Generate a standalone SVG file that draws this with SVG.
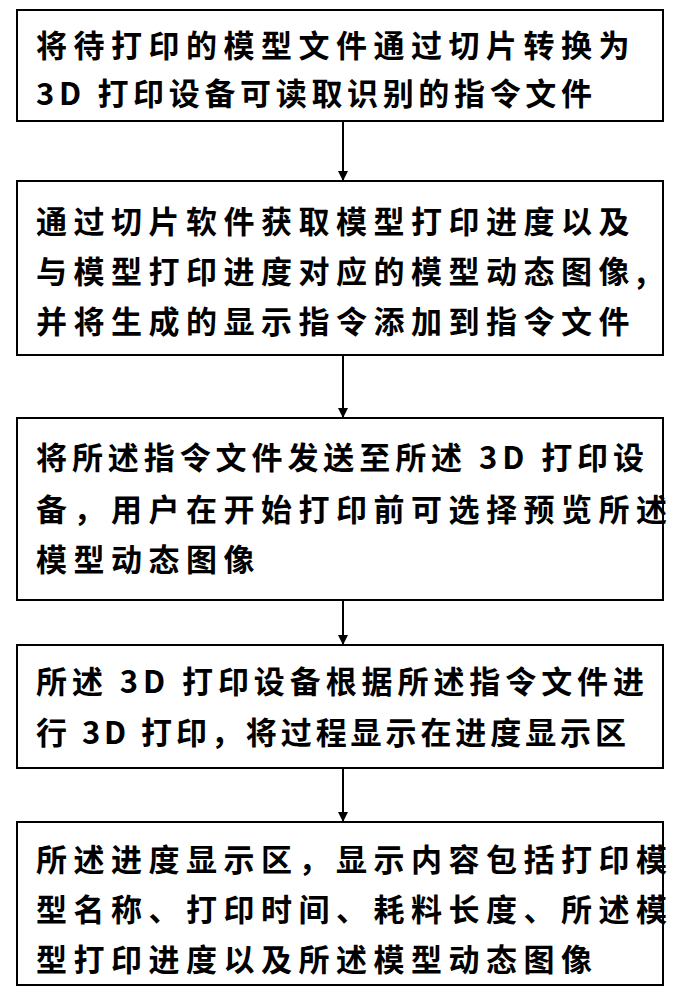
<svg xmlns="http://www.w3.org/2000/svg" width="682" height="1000" viewBox="0 0 682 1000">
<style>
.b{fill:#fff;stroke:#000;stroke-width:2}
.t{font-family:"Noto Sans CJK SC","Noto Sans",sans-serif;font-size:31px;font-weight:bold;fill:#000;letter-spacing:6.5px}
.s{letter-spacing:0}
.c{stroke:#000;stroke-width:2;fill:none}
</style>
<defs><marker id="a" markerWidth="10" markerHeight="10" refX="9" refY="5" orient="auto" markerUnits="userSpaceOnUse"><path d="M0,0 L10,5 L0,10 Z" fill="#000"/></marker></defs>
<rect width="682" height="1000" fill="#fff"/>
<g id="connectors">
<line class="c" x1="343" y1="121" x2="343" y2="180" marker-end="url(#a)"/>
<line class="c" x1="343" y1="355" x2="343" y2="417" marker-end="url(#a)"/>
<line class="c" x1="343" y1="600" x2="343" y2="644" marker-end="url(#a)"/>
<line class="c" x1="343" y1="768" x2="343" y2="821" marker-end="url(#a)"/>
</g>
<g id="n1"><rect class="b" x="17" y="10" width="646" height="111"/>
<text class="t" x="36" y="57">将待打印的模型文件通过切片转换为</text>
<text class="t s" x="36" y="105" textLength="556" lengthAdjust="spacing">3D 打印设备可读取识别的指令文件</text></g>
<g id="n2"><rect class="b" x="17" y="181" width="646" height="174"/>
<text class="t" x="36" y="233">通过切片软件获取模型打印进度以及</text>
<text class="t" x="36" y="283">与模型打印进度对应的模型动态图像,</text>
<text class="t" x="36" y="333">并将生成的显示指令添加到指令文件</text></g>
<g id="n3"><rect class="b" x="17" y="418" width="646" height="182"/>
<text class="t s" x="36" y="469" textLength="608" lengthAdjust="spacing">将所述指令文件发送至所述 3D 打印设</text>
<text class="t" x="36" y="521">备，用户在开始打印前可选择预览所述</text>
<text class="t" x="36" y="571">模型动态图像</text></g>
<g id="n4"><rect class="b" x="17" y="645" width="646" height="123"/>
<text class="t s" x="36" y="693" textLength="608" lengthAdjust="spacing">所述 3D 打印设备根据所述指令文件进</text>
<text class="t s" x="36" y="744" textLength="590" lengthAdjust="spacing">行 3D 打印，将过程显示在进度显示区</text></g>
<g id="n5"><rect class="b" x="17" y="822" width="646" height="163"/>
<text class="t" x="36" y="871">所述进度显示区，显示内容包括打印模</text>
<text class="t" x="36" y="921">型名称、打印时间、耗料长度、所述模</text>
<text class="t" x="36" y="971">型打印进度以及所述模型动态图像</text></g>
</svg>
